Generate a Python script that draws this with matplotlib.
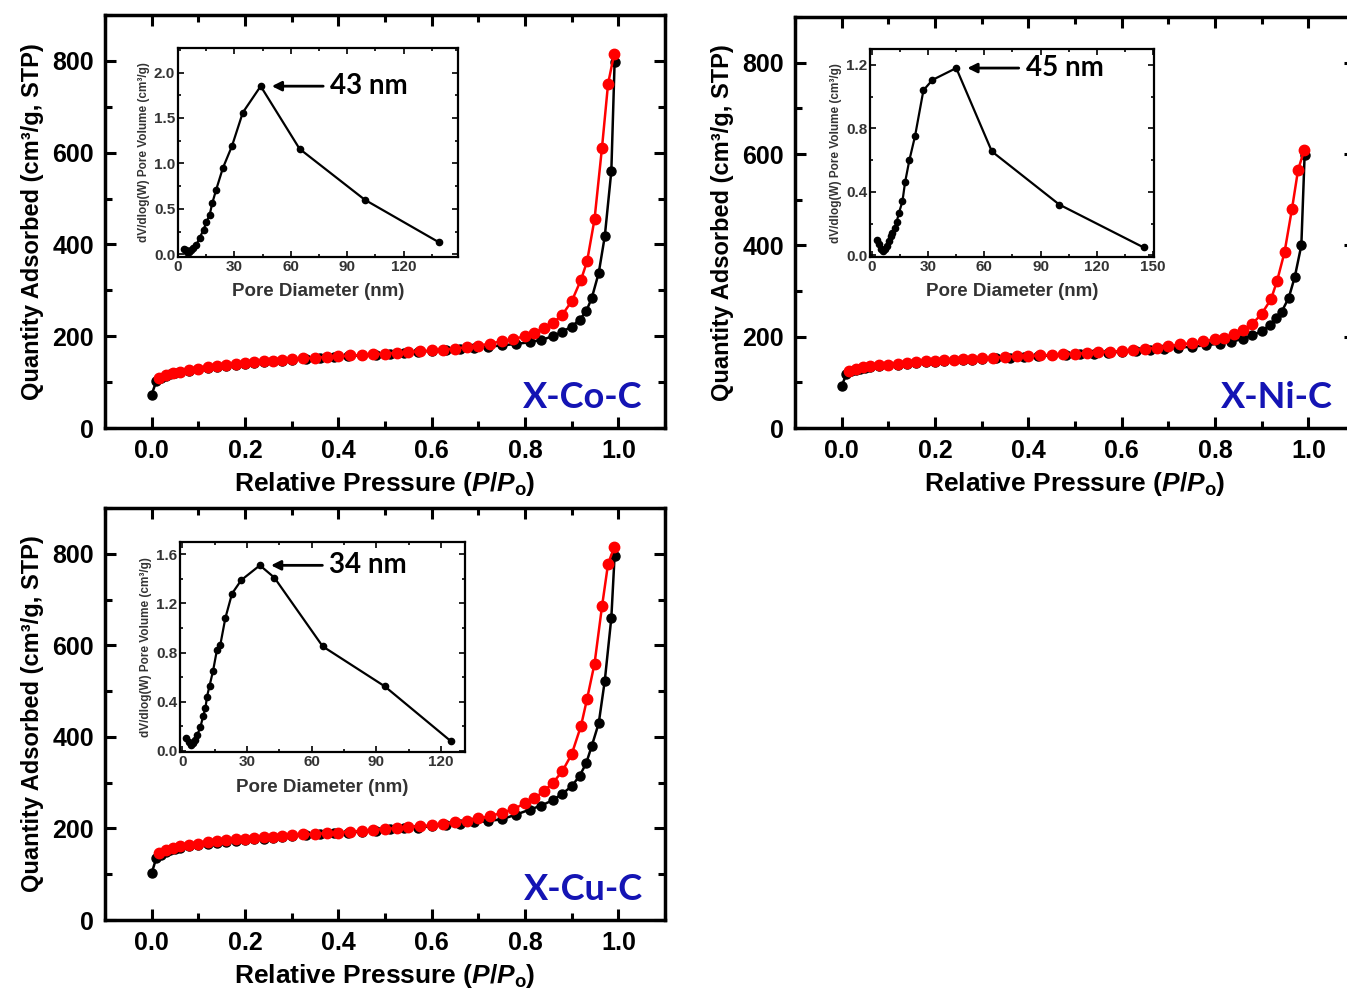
import numpy as np
import matplotlib
matplotlib.use("Agg")
import matplotlib.pyplot as plt
from matplotlib.ticker import MultipleLocator, FormatStrFormatter

plt.rcParams['font.family'] = ['Liberation Sans', 'DejaVu Sans']
plt.rcParams['font.weight'] = 'bold'
plt.rcParams['mathtext.fontset'] = 'custom'
plt.rcParams['mathtext.rm'] = 'Liberation Sans:bold'
plt.rcParams['mathtext.it'] = 'Liberation Sans:italic:bold'
plt.rcParams['mathtext.bf'] = 'Liberation Sans:bold'

# relative pressure points (adsorption = black, desorption = red)
p_ads = [0.0, 0.01, 0.02, 0.03, 0.04, 0.05, 0.06, 0.08, 0.10, 0.12, 0.14, 0.16,
         0.18, 0.20, 0.22, 0.24, 0.26, 0.28, 0.30, 0.33, 0.36, 0.39, 0.42, 0.45,
         0.48, 0.51, 0.54, 0.57, 0.60, 0.63, 0.66, 0.69, 0.72, 0.75, 0.78, 0.81,
         0.835, 0.86, 0.88, 0.90, 0.917, 0.931, 0.943, 0.958, 0.971, 0.985, 0.992]
p_des = [0.991, 0.978, 0.965, 0.949, 0.933, 0.92, 0.90, 0.88, 0.86, 0.84, 0.82,
         0.80, 0.775, 0.75, 0.725, 0.70, 0.675, 0.65, 0.625, 0.60, 0.575, 0.55,
         0.525, 0.50, 0.475, 0.45, 0.425, 0.40, 0.375, 0.35, 0.325, 0.30, 0.28,
         0.26, 0.24, 0.22, 0.20, 0.18, 0.16, 0.14, 0.12, 0.10, 0.08, 0.06, 0.045,
         0.03, 0.015]

# X-Co-C
co_ads = [73, 102, 108, 113, 117, 120, 122, 125, 128, 131, 133, 136, 138, 140,
          142, 144, 146, 147, 149, 151, 153, 155, 157, 158, 160, 162, 164, 166,
          168, 170, 172, 175, 177, 180, 183, 187, 192, 200, 210, 221, 236, 254,
          283, 338, 418, 560, 797]
co_des = [815, 750, 611, 455, 363, 323, 276, 247, 229, 218, 208, 200, 194, 189,
          184, 179, 176, 173, 171, 169, 167, 166, 164, 162, 161, 159, 158, 156,
          155, 153, 152, 150, 149, 147, 146, 144, 142, 140, 137, 135, 132, 129,
          126, 123, 120, 116, 110]
co_d = [3, 4, 5, 6, 7, 8, 9.7, 11.5, 13.6, 15, 16.8, 18.2, 20.3, 23.9, 28.7,
        34.5, 44, 64.7, 99.4, 139]
co_v = [0.06, 0.05, 0.03, 0.03, 0.05, 0.07, 0.10, 0.18, 0.27, 0.35, 0.43, 0.56,
        0.71, 0.95, 1.19, 1.56, 1.85, 1.16, 0.60, 0.13]

# X-Ni-C
ni_ads = [92, 118, 124, 127, 130, 132, 133, 135, 137, 139, 141, 142, 144, 145,
          146, 148, 149, 150, 151, 153, 154, 156, 157, 159, 160, 162, 163, 165,
          167, 169, 171, 173, 176, 178, 181, 185, 189, 195, 203, 212, 225, 240,
          255, 285, 331, 400, 597]
ni_des = [608, 565, 480, 385, 322, 282, 250, 228, 214, 205, 198, 194, 190, 186,
          183, 179, 176, 173, 171, 169, 167, 166, 164, 163, 162, 160, 159, 158,
          157, 156, 154, 153, 152, 151, 150, 148, 147, 146, 144, 143, 141, 139,
          137, 135, 133, 130, 125]
ni_d = [3, 4, 5, 6, 7, 8, 9, 10, 11, 12.4, 13.2, 14.5, 16.3, 17.7, 20, 23, 27.5,
        32.3, 45, 64, 100, 145]
ni_v = [0.10, 0.07, 0.04, 0.03, 0.04, 0.06, 0.09, 0.12, 0.14, 0.17, 0.21, 0.27,
        0.34, 0.46, 0.60, 0.75, 1.04, 1.105, 1.18, 0.655, 0.32, 0.05]

# X-Cu-C
cu_ads = [102, 136, 143, 148, 152, 155, 157, 161, 164, 167, 169, 171, 173, 175,
          177, 178, 180, 181, 183, 185, 187, 189, 191, 193, 195, 198, 200, 202,
          205, 207, 210, 213, 216, 220, 230, 241, 250, 262, 276, 292, 315, 342,
          380, 430, 523, 660, 796]
cu_des = [814, 778, 685, 560, 483, 424, 362, 325, 300, 281, 266, 255, 242, 234,
          227, 222, 217, 213, 210, 207, 205, 203, 201, 199, 197, 195, 193, 191,
          190, 188, 187, 185, 184, 182, 181, 180, 178, 176, 174, 172, 170, 167,
          164, 161, 158, 153, 146]
cu_d = [2, 3, 4, 5, 6, 7, 8.4, 9.7, 10.8, 11.5, 12.7, 14.3, 16.1, 17.7, 20, 23.1,
        27.4, 36, 42.7, 65.1, 93.8, 124.6]
cu_v = [0.10, 0.07, 0.05, 0.06, 0.09, 0.13, 0.19, 0.28, 0.35, 0.44, 0.53, 0.65,
        0.82, 0.865, 1.08, 1.28, 1.39, 1.51, 1.41, 0.85, 0.525, 0.076]

labels = ['X-Co-C', 'X-Ni-C', 'X-Cu-C']
peaks = ['43 nm', '45 nm', '34 nm']

W, H = 1347, 998
fig = plt.figure(figsize=(W / 100, H / 100), dpi=100)


def px(l, t, r, b):
    return [l / W, 1 - b / H, (r - l) / W, (b - t) / H]


def main_panel(rect, ads, des, name):
    ax = fig.add_axes(rect)
    ax.plot(p_ads, ads, '-o', color='black', lw=1.8, ms=6.5, zorder=3)
    ax.plot(p_des, des, '-o', color='red', lw=1.8, ms=7.5, zorder=4)
    ax.set_xlim(-0.1, 1.1)
    ax.set_ylim(0, 900)
    ax.xaxis.set_major_locator(MultipleLocator(0.2))
    ax.xaxis.set_minor_locator(MultipleLocator(0.1))
    ax.yaxis.set_major_locator(MultipleLocator(200))
    ax.yaxis.set_minor_locator(MultipleLocator(100))
    ax.xaxis.set_major_formatter(FormatStrFormatter('%.1f'))
    ax.tick_params(which='both', direction='in', top=True, right=True,
                   labelsize=18, width=2.2, pad=8)
    ax.tick_params(which='major', length=8)
    ax.tick_params(which='minor', length=5)
    for s in ax.spines.values():
        s.set_linewidth(2.5)
    ax.set_xlabel(r'Relative Pressure ($P/P_\mathrm{o}$)', fontsize=19,
                  fontweight='bold', labelpad=5)
    ax.set_ylabel('Quantity Adsorbed (cm³/g, STP)', fontsize=17,
                  fontweight='bold', labelpad=6)
    ax.text(0.96, 0.035, name, transform=ax.transAxes, ha='right', va='bottom',
            fontsize=26, fontweight='bold', color='#1414b4', family='Lato')
    return ax


def inset(rect, d, v, xlim, ylim, ystep, peak_txt):
    ax = fig.add_axes(rect)
    ax.plot(d, v, '-o', color='black', lw=1.6, ms=4.5)
    ax.set_xlim(*xlim)
    ax.set_ylim(*ylim)
    ax.xaxis.set_major_locator(MultipleLocator(30))
    ax.xaxis.set_minor_locator(MultipleLocator(15))
    ax.yaxis.set_major_locator(MultipleLocator(ystep))
    ax.yaxis.set_minor_locator(MultipleLocator(ystep / 2))
    ax.yaxis.set_major_formatter(FormatStrFormatter('%.1f'))
    ax.tick_params(which='both', direction='in', top=True, right=True,
                   labelsize=11, width=1.2, pad=2, labelcolor='#333333')
    ax.tick_params(which='major', length=4)
    ax.tick_params(which='minor', length=2.5)
    for s in ax.spines.values():
        s.set_linewidth(1.6)
    ax.set_xlabel('Pore Diameter (nm)', fontsize=13.5, fontweight='bold',
                  color='#333333', labelpad=7)
    ax.set_ylabel('dV/dlog(W) Pore Volume (cm³/g)', fontsize=8.5,
                  fontweight='bold', color='#333333', labelpad=3)
    i = int(np.argmax(v))
    ax.annotate(peak_txt, xy=(d[i], v[i]), xytext=(50, 0),
                textcoords='offset points', ha='left', va='center',
                fontsize=20, fontweight='bold', family='Lato',
                arrowprops=dict(arrowstyle='-|>', color='black', lw=2,
                                mutation_scale=14, shrinkA=3, shrinkB=8))
    return ax


main_panel(px(105, 15, 665, 428), co_ads, co_des, labels[0])
main_panel(px(795, 17, 1355, 428), ni_ads, ni_des, labels[1])
main_panel(px(105, 508, 665, 920), cu_ads, cu_des, labels[2])

inset(px(178, 48, 458, 257), co_d, co_v, (0, 149), (-0.03, 2.27), 0.5, peaks[0])
inset(px(870, 49, 1154, 257), ni_d, ni_v, (-1, 150.5), (-0.01, 1.3), 0.4, peaks[1])
inset(px(180, 542, 465, 752), cu_d, cu_v, (-1, 131), (-0.01, 1.7), 0.4, peaks[2])

fig.savefig('out.png', dpi=100)
